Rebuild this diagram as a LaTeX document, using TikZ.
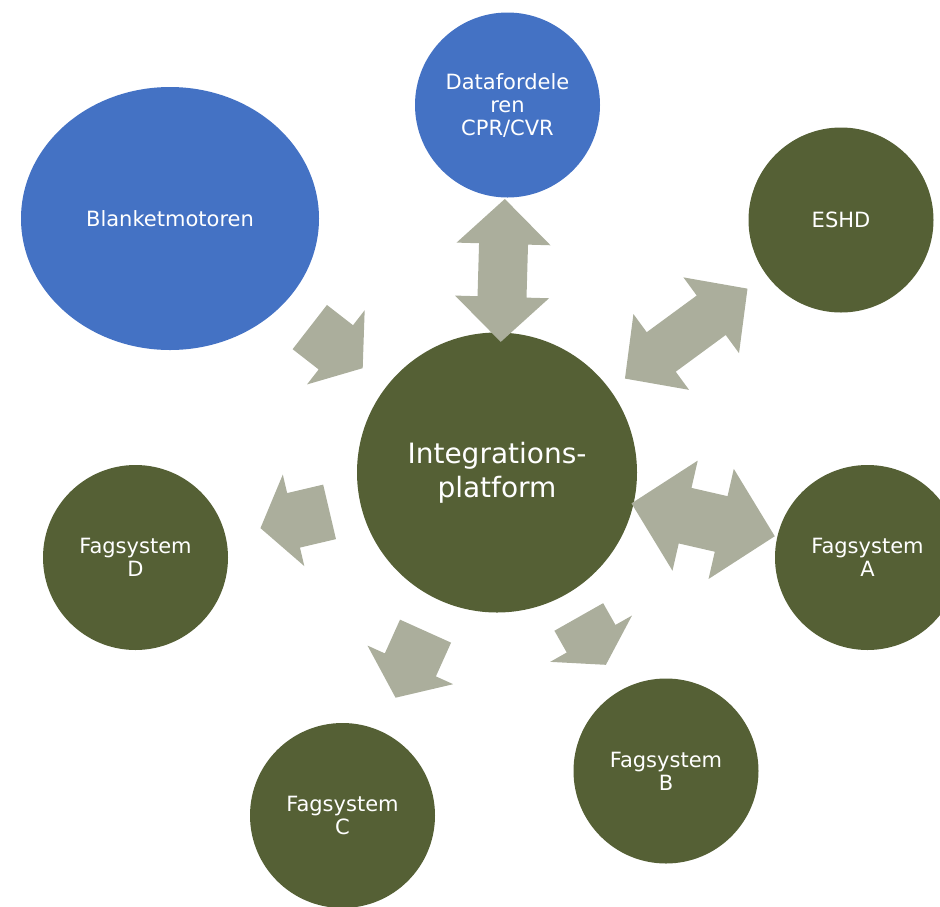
\documentclass[tikz,border=0pt]{standalone}
\usepackage{fontspec}
\setmainfont{DejaVu Sans}
\usetikzlibrary{calc,shapes.geometric}
\definecolor{dfblue}{HTML}{4472C4}
\definecolor{sysgreen}{HTML}{556035}
\definecolor{arrowgray}{RGB}{171,174,156}
\pgfkeys{
  /custom/.cd,
  from/.initial=plat,
  to/.initial=plat,
  start/.initial=0pt,
  end/.initial=10pt,
  shaft/.initial=56pt,
  head/.initial=94pt,
  tip/.initial=34pt
}
\newcommand{\flowarrow}[1][]{
    {
        \pgfkeys{/custom/.cd,#1}
        \pgfkeys{/custom/from/.get=\flowfrom}
        \pgfkeys{/custom/to/.get=\flowto}
        \pgfkeys{/custom/start/.get=\flowstart}
        \pgfkeys{/custom/end/.get=\flowend}
        \pgfkeys{/custom/shaft/.get=\flowshaft}
        \pgfkeys{/custom/head/.get=\flowhead}
        \pgfkeys{/custom/tip/.get=\flowtip}
        \coordinate (fs) at ($ (\flowfrom.center)!\flowstart!(\flowto.center) $);
        \coordinate (fe) at ($ (\flowfrom.center)!\flowend!(\flowto.center) $);
        \coordinate (hb) at ($ (fe)!\flowtip!(fs) $);
        \fill[arrowgray] ($ (fs)!0.5*\flowshaft!-90:(fe) $) -- ($ (hb)!0.5*\flowshaft!-90:(fe) $) -- ($ (hb)!0.5*\flowhead!-90:(fe) $) -- (fe)
            -- ($ (hb)!0.5*\flowhead!90:(fe) $) -- ($ (hb)!0.5*\flowshaft!90:(fe) $) -- ($ (fs)!0.5*\flowshaft!90:(fe) $) -- cycle;
    }
}
\newcommand{\dualarrow}[1][]{
    {
        \pgfkeys{/custom/.cd,#1}
        \pgfkeys{/custom/from/.get=\flowfrom}
        \pgfkeys{/custom/to/.get=\flowto}
        \pgfkeys{/custom/start/.get=\flowstart}
        \pgfkeys{/custom/end/.get=\flowend}
        \pgfkeys{/custom/shaft/.get=\flowshaft}
        \pgfkeys{/custom/head/.get=\flowhead}
        \pgfkeys{/custom/tip/.get=\flowtip}
        \coordinate (fs) at ($ (\flowfrom.center)!\flowstart!(\flowto.center) $);
        \coordinate (fe) at ($ (\flowfrom.center)!\flowend!(\flowto.center) $);
        \coordinate (ha) at ($ (fs)!\flowtip!(fe) $);
        \coordinate (hb) at ($ (fe)!\flowtip!(fs) $);
        \fill[arrowgray] (fs) -- ($ (ha)!0.5*\flowhead!90:(fe) $) -- ($ (ha)!0.5*\flowshaft!90:(fe) $) -- ($ (hb)!0.5*\flowshaft!-90:(fs) $)
            -- ($ (hb)!0.5*\flowhead!-90:(fs) $) -- (fe) -- ($ (hb)!0.5*\flowhead!90:(fs) $) -- ($ (hb)!0.5*\flowshaft!90:(fs) $)
            -- ($ (ha)!0.5*\flowshaft!-90:(fe) $) -- ($ (ha)!0.5*\flowhead!-90:(fe) $) -- cycle;
    }
}

\begin{document}
\begin{tikzpicture}[x=1pt,y=-1pt,
    system/.style={circle,fill=sysgreen,text=white,minimum size=185pt,inner sep=0pt,align=center,font=\fontsize{21}{23}\selectfont}]
    \useasboundingbox (0,0) rectangle (940,906);

    \node[system,minimum size=280pt,font=\fontsize{28}{34}\selectfont] (plat) at (497,472.5) {Integrations-\\platform};
    \node[system,fill=dfblue] (df) at (507.5,105) {Datafordele\\ren\\CPR/CVR};
    \node[system,ellipse,fill=dfblue,minimum width=298pt,minimum height=263pt] (blank) at (170,218.5) {Blanketmotoren};
    \node[system] (eshd) at (841,220) {ESHD};
    \node[system] (fa) at (867.5,557.5) {Fagsystem\\A};
    \node[system] (fb) at (666,771) {Fagsystem\\B};
    \node[system] (fc) at (342.5,815.5) {Fagsystem\\C};
    \node[system] (fd) at (135.5,557.5) {Fagsystem\\D};

    \dualarrow[from=df,to=plat,start=94pt,end=237pt,shaft=49pt,head=94pt,tip=45pt]
    \dualarrow[from=eshd,to=plat,start=116pt,end=268pt,shaft=49pt,head=94pt,tip=45pt]
    \dualarrow[from=plat,to=fa,start=138pt,end=285pt,shaft=57pt,head=113pt,tip=55pt]
    \flowarrow[from=blank,to=plat,start=177pt,end=244pt]
    \flowarrow[from=plat,to=fd,start=172pt,end=243pt]
    \flowarrow[from=plat,to=fc,start=174pt,end=247pt,tip=36pt]
    \flowarrow[from=plat,to=fb,start=166pt,end=221pt,tip=30pt]
\end{tikzpicture}
\end{document}
